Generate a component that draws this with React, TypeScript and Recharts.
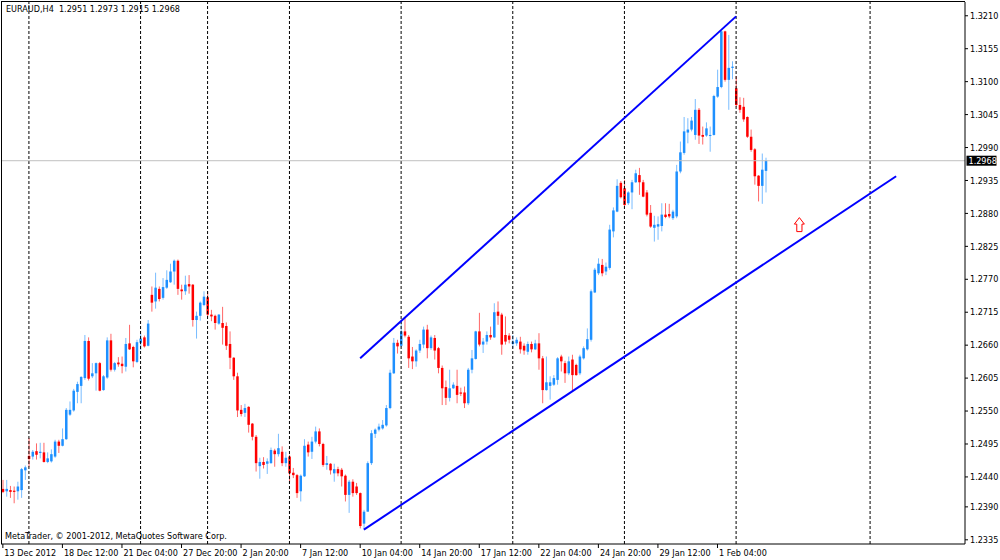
import React from "react";
import {
  Bar,
  ComposedChart,
  ReferenceDot,
  ReferenceLine,
  XAxis,
  YAxis,
} from "recharts";

if (typeof document !== "undefined") document.body.style.margin = "0";

const FONT = "'DejaVu Sans Condensed', 'Liberation Sans', Arial, sans-serif";
const BULL = "#1E90FF";
const BEAR = "#FF0000";

// EURAUD H4 candles, 13 Dec 2012 20:00 .. 5 Feb 2013 08:00
const openP = [
  1.2420, 1.2416, 1.2418, 1.2417, 1.2416, 1.2418, 1.2451, 1.2475, 1.2474, 1.2483,
  1.2480, 1.2481, 1.2465, 1.2466, 1.2474, 1.2499, 1.2492, 1.2503, 1.2544, 1.2551,
  1.2582, 1.2592, 1.2605, 1.2667, 1.2608, 1.2613, 1.2630, 1.2585, 1.2606, 1.2668,
  1.2619, 1.2631, 1.2629, 1.2624, 1.2663, 1.2657, 1.2632, 1.2664, 1.2673, 1.2659,
  1.2744, 1.2733, 1.2754, 1.2739, 1.2756, 1.2765, 1.2783, 1.2801, 1.2753, 1.2750,
  1.2762, 1.2761, 1.2702, 1.2709, 1.2727, 1.2740, 1.2711, 1.2709, 1.2696, 1.2697,
  1.2692, 1.2662, 1.2639, 1.2608, 1.2552, 1.2547, 1.2557, 1.2529, 1.2507, 1.2458,
  1.2465, 1.2462, 1.2463, 1.2484, 1.2478, 1.2482, 1.2463, 1.2474, 1.2447, 1.2443,
  1.2416, 1.2441, 1.2494, 1.2482, 1.2499, 1.2516, 1.2495, 1.2460, 1.2462, 1.2446,
  1.2453, 1.2452, 1.2442, 1.2410, 1.2432, 1.2424, 1.2413, 1.2362, 1.2382, 1.2463,
  1.2512, 1.2519, 1.2521, 1.2526, 1.2555, 1.2613, 1.2664, 1.2659, 1.2683, 1.2674,
  1.2641, 1.2633, 1.2651, 1.2661, 1.2686, 1.2655, 1.2672, 1.2655, 1.2622, 1.2590,
  1.2572, 1.2588, 1.2592, 1.2581, 1.2581, 1.2563, 1.2619, 1.2637, 1.2683, 1.2661,
  1.2666, 1.2677, 1.2673, 1.2716, 1.2711, 1.2677, 1.2676, 1.2662, 1.2663, 1.2666,
  1.2659, 1.2649, 1.2662, 1.2653, 1.2663, 1.2638, 1.2585, 1.2592, 1.2594, 1.2602,
  1.2641, 1.2630, 1.2613, 1.2636, 1.2627, 1.2613, 1.2638, 1.2653, 1.2669, 1.2748,
  1.2780, 1.2794, 1.2783, 1.2789, 1.2850, 1.2883, 1.2931, 1.2922, 1.2897, 1.2915,
  1.2932, 1.2944, 1.2932, 1.2915, 1.2881, 1.2856, 1.2858, 1.2859, 1.2878, 1.2879,
  1.2872, 1.2875, 1.2950, 1.2981, 1.3015, 1.3020, 1.3011, 1.3053, 1.3011, 1.3010,
  1.3010, 1.3011, 1.3075, 1.3091, 1.3184, 1.3103, 1.3123, 1.3089, 1.3061, 1.3058,
  1.3041, 1.3008, 1.2987, 1.2943, 1.2926, 1.2951,
];

const highP = [
  1.2435, 1.2435, 1.2425, 1.2424, 1.2432, 1.2455, 1.2459, 1.2505, 1.2485, 1.2496,
  1.2497, 1.2497, 1.2481, 1.2486, 1.2502, 1.2502, 1.2521, 1.2555, 1.2566, 1.2587,
  1.2599, 1.2608, 1.2677, 1.2673, 1.2630, 1.2631, 1.2632, 1.2610, 1.2673, 1.2679,
  1.2632, 1.2640, 1.2641, 1.2672, 1.2694, 1.2659, 1.2669, 1.2679, 1.2676, 1.2702,
  1.2758, 1.2781, 1.2758, 1.2772, 1.2785, 1.2796, 1.2803, 1.2803, 1.2761, 1.2776,
  1.2777, 1.2762, 1.2716, 1.2733, 1.2750, 1.2750, 1.2719, 1.2711, 1.2712, 1.2724,
  1.2698, 1.2683, 1.2640, 1.2614, 1.2560, 1.2562, 1.2558, 1.2530, 1.2510, 1.2472,
  1.2473, 1.2471, 1.2489, 1.2487, 1.2512, 1.2491, 1.2482, 1.2477, 1.2455, 1.2445,
  1.2444, 1.2503, 1.2499, 1.2507, 1.2524, 1.2521, 1.2497, 1.2475, 1.2463, 1.2462,
  1.2457, 1.2455, 1.2444, 1.2435, 1.2436, 1.2430, 1.2414, 1.2385, 1.2466, 1.2518,
  1.2521, 1.2529, 1.2535, 1.2560, 1.2619, 1.2672, 1.2669, 1.2700, 1.2707, 1.2677,
  1.2657, 1.2653, 1.2669, 1.2691, 1.2694, 1.2676, 1.2677, 1.2657, 1.2626, 1.2601,
  1.2619, 1.2598, 1.2619, 1.2589, 1.2591, 1.2622, 1.2652, 1.2684, 1.2714, 1.2672,
  1.2683, 1.2691, 1.2730, 1.2733, 1.2714, 1.2708, 1.2680, 1.2677, 1.2673, 1.2674,
  1.2663, 1.2666, 1.2666, 1.2669, 1.2680, 1.2642, 1.2641, 1.2608, 1.2610, 1.2640,
  1.2644, 1.2634, 1.2641, 1.2644, 1.2629, 1.2644, 1.2658, 1.2688, 1.2753, 1.2789,
  1.2805, 1.2804, 1.2798, 1.2861, 1.2890, 1.2937, 1.2934, 1.2936, 1.2917, 1.2936,
  1.2953, 1.2956, 1.2936, 1.2919, 1.2894, 1.2876, 1.2875, 1.2897, 1.2897, 1.2896,
  1.2886, 1.2961, 1.3000, 1.3041, 1.3039, 1.3041, 1.3071, 1.3056, 1.3025, 1.3032,
  1.3025, 1.3078, 1.3120, 1.3185, 1.3185, 1.3178, 1.3134, 1.3109, 1.3074, 1.3073,
  1.3042, 1.3020, 1.2989, 1.2944, 1.2980, 1.2973,
];

const lowP = [
  1.2413, 1.2407, 1.2405, 1.2396, 1.2402, 1.2405, 1.2435, 1.2457, 1.2469, 1.2469,
  1.2471, 1.2464, 1.2463, 1.2464, 1.2472, 1.2480, 1.2491, 1.2502, 1.2542, 1.2549,
  1.2563, 1.2563, 1.2602, 1.2601, 1.2605, 1.2584, 1.2583, 1.2584, 1.2604, 1.2616,
  1.2616, 1.2624, 1.2613, 1.2616, 1.2652, 1.2623, 1.2630, 1.2652, 1.2656, 1.2658,
  1.2716, 1.2721, 1.2733, 1.2736, 1.2754, 1.2764, 1.2761, 1.2744, 1.2736, 1.2744,
  1.2746, 1.2691, 1.2671, 1.2701, 1.2725, 1.2708, 1.2700, 1.2686, 1.2694, 1.2661,
  1.2652, 1.2620, 1.2602, 1.2540, 1.2541, 1.2540, 1.2514, 1.2501, 1.2449, 1.2437,
  1.2454, 1.2445, 1.2462, 1.2457, 1.2474, 1.2458, 1.2457, 1.2432, 1.2438, 1.2405,
  1.2399, 1.2440, 1.2474, 1.2470, 1.2496, 1.2491, 1.2457, 1.2452, 1.2444, 1.2432,
  1.2441, 1.2424, 1.2399, 1.2380, 1.2407, 1.2410, 1.2354, 1.2352, 1.2382, 1.2460,
  1.2505, 1.2516, 1.2519, 1.2524, 1.2553, 1.2612, 1.2646, 1.2657, 1.2673, 1.2622,
  1.2620, 1.2624, 1.2647, 1.2655, 1.2638, 1.2652, 1.2636, 1.2613, 1.2560, 1.2560,
  1.2566, 1.2587, 1.2563, 1.2575, 1.2555, 1.2560, 1.2613, 1.2636, 1.2658, 1.2647,
  1.2661, 1.2669, 1.2672, 1.2694, 1.2644, 1.2661, 1.2663, 1.2655, 1.2659, 1.2646,
  1.2644, 1.2644, 1.2648, 1.2652, 1.2619, 1.2563, 1.2584, 1.2569, 1.2592, 1.2594,
  1.2616, 1.2597, 1.2610, 1.2583, 1.2609, 1.2610, 1.2636, 1.2651, 1.2666, 1.2747,
  1.2777, 1.2775, 1.2777, 1.2786, 1.2840, 1.2882, 1.2905, 1.2892, 1.2894, 1.2887,
  1.2931, 1.2911, 1.2907, 1.2875, 1.2856, 1.2833, 1.2836, 1.2850, 1.2872, 1.2872,
  1.2869, 1.2872, 1.2947, 1.2978, 1.2997, 1.3017, 1.3003, 1.2996, 1.2995, 1.3008,
  1.2983, 1.3010, 1.3073, 1.3089, 1.3100, 1.3053, 1.3104, 1.3058, 1.3048, 1.3033,
  1.3006, 1.2983, 1.2928, 1.2900, 1.2896, 1.2915,
];

const closeP = [
  1.2415, 1.2420, 1.2415, 1.2415, 1.2424, 1.2453, 1.2456, 1.2470, 1.2482, 1.2477,
  1.2482, 1.2465, 1.2471, 1.2478, 1.2499, 1.2492, 1.2503, 1.2552, 1.2552, 1.2584,
  1.2595, 1.2607, 1.2667, 1.2604, 1.2613, 1.2630, 1.2584, 1.2608, 1.2668, 1.2619,
  1.2630, 1.2628, 1.2625, 1.2662, 1.2653, 1.2633, 1.2665, 1.2671, 1.2658, 1.2696,
  1.2731, 1.2756, 1.2737, 1.2757, 1.2769, 1.2783, 1.2801, 1.2754, 1.2750, 1.2761,
  1.2758, 1.2702, 1.2709, 1.2731, 1.2741, 1.2711, 1.2708, 1.2697, 1.2711, 1.2689,
  1.2659, 1.2639, 1.2608, 1.2551, 1.2545, 1.2555, 1.2527, 1.2507, 1.2463, 1.2465,
  1.2460, 1.2466, 1.2485, 1.2478, 1.2488, 1.2463, 1.2472, 1.2446, 1.2443, 1.2413,
  1.2442, 1.2492, 1.2481, 1.2499, 1.2516, 1.2495, 1.2460, 1.2463, 1.2451, 1.2453,
  1.2446, 1.2441, 1.2410, 1.2432, 1.2413, 1.2413, 1.2358, 1.2382, 1.2463, 1.2513,
  1.2519, 1.2524, 1.2527, 1.2555, 1.2614, 1.2664, 1.2658, 1.2683, 1.2676, 1.2638,
  1.2633, 1.2651, 1.2662, 1.2686, 1.2655, 1.2673, 1.2651, 1.2622, 1.2588, 1.2572,
  1.2588, 1.2594, 1.2577, 1.2579, 1.2563, 1.2619, 1.2638, 1.2683, 1.2661, 1.2666,
  1.2677, 1.2673, 1.2715, 1.2709, 1.2661, 1.2666, 1.2669, 1.2666, 1.2669, 1.2653,
  1.2651, 1.2662, 1.2653, 1.2663, 1.2638, 1.2585, 1.2598, 1.2598, 1.2605, 1.2638,
  1.2633, 1.2613, 1.2633, 1.2610, 1.2610, 1.2641, 1.2655, 1.2670, 1.2750, 1.2786,
  1.2796, 1.2780, 1.2791, 1.2853, 1.2885, 1.2926, 1.2907, 1.2894, 1.2915, 1.2932,
  1.2947, 1.2932, 1.2908, 1.2878, 1.2858, 1.2861, 1.2862, 1.2878, 1.2874, 1.2875,
  1.2883, 1.2950, 1.2982, 1.3017, 1.3020, 1.3035, 1.3053, 1.3010, 1.3008, 1.3022,
  1.3011, 1.3076, 1.3091, 1.3184, 1.3103, 1.3123, 1.3125, 1.3061, 1.3053, 1.3037,
  1.3008, 1.2986, 1.2942, 1.2926, 1.2953, 1.2968,
];

// one label every 16 bars, starting at bar 0
const timeLabels = [
  "13 Dec 2012", "18 Dec 12:00", "21 Dec 04:00", "27 Dec 20:00", "2 Jan 20:00",
  "7 Jan 12:00", "10 Jan 04:00", "14 Jan 20:00", "17 Jan 12:00", "22 Jan 04:00",
  "24 Jan 20:00", "29 Jan 12:00", "1 Feb 04:00",
];
const LABEL_STEP = 16;

const priceTicks = [
  1.3210, 1.3155, 1.3100, 1.3045, 1.2990, 1.2935, 1.2880, 1.2825, 1.2770,
  1.2715, 1.2660, 1.2605, 1.2550, 1.2495, 1.2440, 1.2390, 1.2335,
];

// weekly period separators (bar index of Monday 00:00)
const separators = [7, 37, 55, 77, 107, 137, 167, 197, 233];

const upperTrend = [{ x: 96, y: 1.2638 }, { x: 197, y: 1.3209 }];
const lowerTrend = [{ x: 97, y: 1.2352 }, { x: 240, y: 1.2942 }];
const arrowAt = { x: 214, y: 1.2873 };

const header = "EURAUD,H4  1.2951 1.2973 1.2915 1.2968";
const lastPrice = closeP[closeP.length - 1];
const SLOTS = 259; // bars plus empty space to the right

const rows = Array.from({ length: SLOTS }, (_, i) =>
  i < openP.length
    ? {
        i,
        open: openP[i],
        high: highP[i],
        low: lowP[i],
        close: closeP[i],
        range: [lowP[i], highP[i]],
      }
    : { i, range: null }
);

const tickIdx = timeLabels.map((_, k) => k * LABEL_STEP);

function Candle(props: any) {
  const { x, y, width, height, payload } = props;
  if (!payload || payload.open == null) return null;
  const top = Math.min(y, y + height);
  const h = Math.abs(height);
  const span = payload.high - payload.low || 1;
  const py = (v: number) => top + ((payload.high - v) / span) * h;
  const color = payload.close >= payload.open ? BULL : BEAR;
  const cx = x + width / 2;
  const bTop = py(Math.max(payload.open, payload.close));
  const bBot = py(Math.min(payload.open, payload.close));
  return (
    <g>
      <line x1={cx} x2={cx} y1={top} y2={top + h} stroke={color} strokeOpacity={0.6} />
      <rect x={cx - 1.25} y={bTop} width={2.5} height={Math.max(1, bBot - bTop)} fill={color} />
    </g>
  );
}

function TimeTick({ x, y, payload }: any) {
  const label = timeLabels[payload.value / LABEL_STEP];
  return (
    <text x={x + 1.5} y={y + 8} fontSize={9} fontFamily={FONT} fill="#000">
      {label}
    </text>
  );
}

function PriceTag(props: any) {
  const vb = props.viewBox;
  if (!vb) return null;
  const left = vb.x + vb.width + 1.5;
  return (
    <g>
      <rect x={left} y={vb.y - 5} width={30} height={10} fill="#000" />
      <text x={left + 2} y={vb.y + 3.5} fontSize={9} fontFamily={FONT} fill="#fff">
        {lastPrice.toFixed(4)}
      </text>
    </g>
  );
}

function UpArrow({ cx, cy }: any) {
  const d = `M${cx},${cy} L${cx + 5},${cy + 6.5} L${cx + 2.6},${cy + 6.5} L${cx + 2.6},${cy + 14} L${cx - 2.6},${cy + 14} L${cx - 2.6},${cy + 6.5} L${cx - 5},${cy + 6.5} Z`;
  return <path d={d} fill="#fff" stroke={BEAR} strokeWidth={1} />;
}

export default function App() {
  return (
    <div style={{ position: "relative", width: 1000, height: 560, background: "#fff" }}>
      <ComposedChart
        width={1000}
        height={560}
        data={rows}
        barCategoryGap={0}
        margin={{ top: 2, right: 0, bottom: 0, left: 1 }}
      >
        <XAxis
          dataKey="i"
          type="category"
          height={16}
          ticks={tickIdx}
          interval={0}
          tick={<TimeTick />}
          tickSize={4}
          tickMargin={0}
          tickLine={{ stroke: "#000" }}
          axisLine={{ stroke: "#000" }}
        />
        <YAxis
          orientation="right"
          width={35}
          domain={[1.2328, 1.3233]}
          allowDataOverflow
          ticks={priceTicks}
          interval={0}
          tickFormatter={(v: number) => v.toFixed(4)}
          tick={{ fontSize: 9, fontFamily: FONT, fill: "#000" }}
          tickSize={3}
          tickMargin={2}
          tickLine={{ stroke: "#000" }}
          axisLine={{ stroke: "#000" }}
        />
        {separators.map((s) => (
          <ReferenceLine key={s} x={s} stroke="#000" strokeDasharray="3 2" />
        ))}
        <ReferenceLine y={lastPrice} stroke="#C0C0C0" label={PriceTag} />
        <Bar dataKey="range" shape={<Candle />} isAnimationActive={false} />
        <ReferenceLine segment={upperTrend} stroke="#0000FF" strokeWidth={2} ifOverflow="visible" />
        <ReferenceLine segment={lowerTrend} stroke="#0000FF" strokeWidth={2} ifOverflow="visible" />
        <ReferenceDot x={arrowAt.x} y={arrowAt.y} shape={<UpArrow />} />
      </ComposedChart>
      <div
        style={{
          position: "absolute",
          left: 1,
          top: 1,
          width: 964,
          height: 543,
          borderLeft: "1px solid #000",
          borderTop: "1px solid #000",
          boxSizing: "border-box",
          pointerEvents: "none",
        }}
      />
      <div style={{ position: "absolute", left: 6, top: 4, font: `9px ${FONT}`, lineHeight: "11px", whiteSpace: "pre" }}>
        {header}
      </div>
      <div style={{ position: "absolute", left: 5, top: 531, font: `9px ${FONT}`, lineHeight: "11px", whiteSpace: "pre" }}>
        MetaTrader, © 2001-2012, MetaQuotes Software Corp.
      </div>
    </div>
  );
}
